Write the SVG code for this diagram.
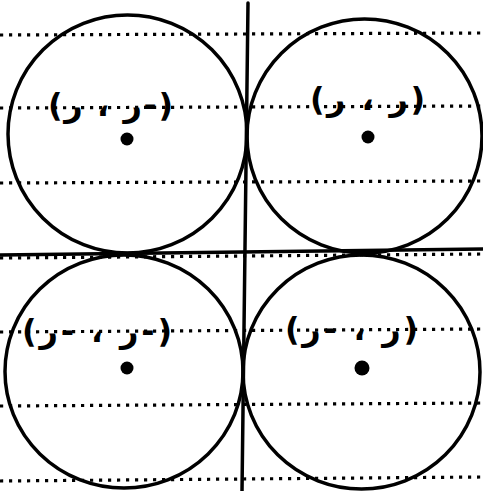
<svg xmlns="http://www.w3.org/2000/svg" width="483" height="491" viewBox="0 0 483 491">
<style>
.dot-line{stroke:#000;stroke-width:3.2;stroke-dasharray:3.2 5.8;fill:none}
.axis{stroke:#000;stroke-width:3.5;fill:none;stroke-linecap:round}
.circ{stroke:#000;stroke-width:3.5;fill:none}
.ctr{fill:#000}
.lbl{font-family:"DejaVu Sans","Liberation Sans",sans-serif;font-size:32px;font-weight:bold;fill:#000;direction:ltr;unicode-bidi:bidi-override}
</style>
<rect width="483" height="491" fill="#fff"/>
<g id="grid">
<line class="dot-line" x1="0" y1="35" x2="483" y2="33"/>
<line class="dot-line" x1="0" y1="108" x2="483" y2="106"/>
<line class="dot-line" x1="0" y1="183" x2="483" y2="181"/>
<line class="dot-line" x1="0" y1="258" x2="483" y2="254"/>
<line class="dot-line" x1="0" y1="332" x2="483" y2="329"/>
<line class="dot-line" x1="0" y1="406" x2="483" y2="403"/>
<line class="dot-line" x1="0" y1="481" x2="483" y2="477"/>
</g>
<g id="connectors">
<line class="axis" x1="0" y1="255" x2="483" y2="249"/>
<line class="axis" x1="248" y1="3" x2="242" y2="491"/>
</g>
<g id="circle-tl">
<ellipse class="circ" cx="127.5" cy="134" rx="119.5" ry="119"/>
<circle class="ctr" cx="127" cy="139" r="6.5"/>
<text class="lbl" x="48" y="116" textLength="125" lengthAdjust="spacing">(ر ، ر-)</text>
</g>
<g id="circle-tr">
<ellipse class="circ" cx="364.5" cy="136" rx="117.5" ry="117"/>
<circle class="ctr" cx="368" cy="137" r="6.5"/>
<text class="lbl" x="310" y="110" textLength="115" lengthAdjust="spacing">(ر ، ر)</text>
</g>
<g id="circle-bl">
<ellipse class="circ" cx="124" cy="371.5" rx="119" ry="116.5"/>
<circle class="ctr" cx="127" cy="368" r="6.5"/>
<text class="lbl" x="22" y="342" textLength="150" lengthAdjust="spacing">(ر- ، ر-)</text>
</g>
<g id="circle-br">
<ellipse class="circ" cx="361.5" cy="372" rx="118.5" ry="117"/>
<circle class="ctr" cx="362" cy="368" r="7.5"/>
<text class="lbl" x="285" y="340" textLength="133" lengthAdjust="spacing">(ر- ، ر)</text>
</g>
</svg>
